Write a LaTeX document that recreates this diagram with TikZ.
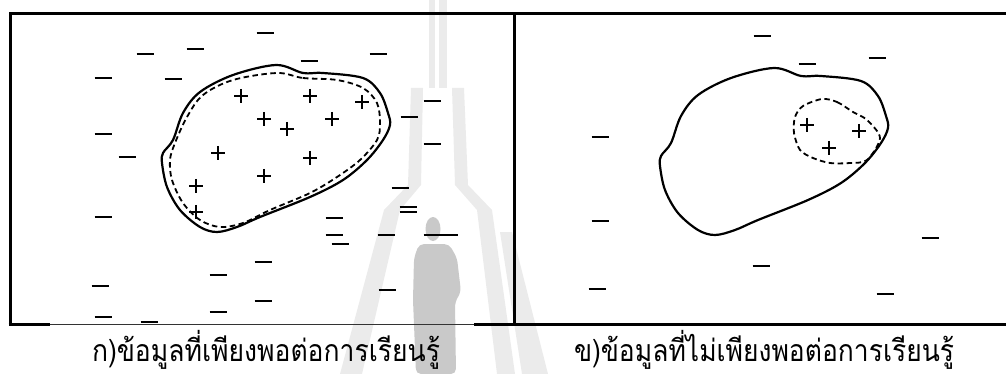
\documentclass[tikz,border=0pt]{standalone}
\usepackage{fontspec}
\usepackage{graphicx}
\newfontfamily\thaifont[Script=Thai]{Loma}
\newlength\capwa \newlength\capwb \newlength\caphk
\begin{document}
\settowidth\capwa{\thaifont ก)ข้อมูลที่เพียงพอต่อการเรียนรู้}%
\settowidth\capwb{\thaifont ข)ข้อมูลที่ไม่เพียงพอต่อการเรียนรู้}%
\settoheight\caphk{\thaifont ก}%
\pgfmathsetmacro\sxa{348/\capwa}%
\pgfmathsetmacro\sxb{380/\capwb}%
\pgfmathsetmacro\sya{17/\caphk}%
\begin{tikzpicture}[x=1pt,y=-1pt,
  frame/.style={line width=3pt},
  thinframe/.style={line width=1pt, black!80},
  blob/.style={line width=2.2pt, line join=round},
  dblob/.style={line width=1.8pt, dash pattern=on 5.5pt off 3.5pt},
  mn/.style={line width=2.9pt},
  pl/.style={line width=2.2pt},
  wm/.style={fill=black!8, draw=none},
  person/.style={fill=black!21, draw=none},
  captext/.style={anchor=base, inner sep=0pt}]
\useasboundingbox (0,0) rectangle (1006,374);
% ---- faint watermark ----
\fill[wm] (429,0) rectangle (435,88);
\fill[wm] (439,0) rectangle (447,88);
\fill[wm] (411,88) -- (423,88) -- (421,185) -- (400,210) -- (362,374) -- (340,374) -- (384,210) -- (408,185) -- cycle;
\fill[wm] (452,88) -- (464,88) -- (468,185) -- (492,210) -- (515,374) -- (497,374) -- (477,210) -- (455,185) -- cycle;
\fill[wm] (500,232) -- (512,232) -- (548,374) -- (522,374) -- cycle;
\fill[person] (433,229) ellipse (7.5 and 12);
\fill[person, rounded corners=5pt] (419,244) -- (449,244) -- (457,258) -- (461,292) -- (455,302) -- (456,374) -- (416,374) -- (413,300) -- (414,258) -- cycle;
% ---- frame ----
\draw[frame] (10,324) -- (10,14) -- (1006,14);
\draw[frame] (514,14) -- (514,325);
\draw[frame] (8.5,324) -- (50,324);
\draw[thinframe] (50,324.5) -- (474,324.5);
\draw[frame] (474,324) -- (1006,324);
% ---- left panel ----
\draw[blob] plot[smooth cycle, tension=0.55] coordinates {
 (276,65) (303,73) (323,73) (363,78) (380,93) (388,113) (390,125) (383,140)
 (367,160) (343,180) (310,197) (260,217) (237,227) (217,232) (200,227)
 (180,210) (167,187) (162,163) (163,153) (173,140) (183,113) (200,92) (233,75)};
\draw[dblob] plot[smooth cycle, tension=0.55] coordinates {
 (277,73) (303,78) (337,80) (363,88) (377,103) (380,123) (377,140) (360,160)
 (337,177) (310,193) (270,210) (243,223) (220,227) (200,220) (183,203)
 (172,180) (170,160) (175,143) (187,117) (203,95) (233,80)};
\foreach \x/\y in {265/33,145/54,195/49,309/61,378/54,103/78,173/79,432/101,
  409/117,432/144,103/134,127/157,400/188,408/207,408/212,103/217,334/218,
  334/235,340/244,386/235,432/235,449/235,263/262,218/275,100/286,263/301,
  218/312,387/290,103/317,149/322}
  \draw[mn] ({\x-8.5},\y) -- ({\x+8.5},\y);
\foreach \x/\y in {241/96,310/96,362/102,264/119,287/129,332/119,218/153,
  310/158,264/176,196/186,196/212}
  \draw[pl] ({\x-7},\y) -- ({\x+7},\y) ({\x},{\y-7}) -- ({\x},{\y+7});
% ---- right panel ----
\begin{scope}[shift={(498,3)}]
\draw[blob] plot[smooth cycle, tension=0.55] coordinates {
 (276,65) (303,73) (323,73) (363,78) (380,93) (388,113) (390,125) (383,140)
 (367,160) (343,180) (310,197) (260,217) (237,227) (217,232) (200,227)
 (180,210) (167,187) (162,163) (163,153) (173,140) (183,113) (200,92) (233,75)};
\end{scope}
\draw[dblob] plot[smooth cycle, tension=0.5] coordinates {
 (822,99) (837,102) (853,112) (867,120) (880,138) (867,160) (850,163)
 (830,163) (813,158) (800,150) (794,133) (795,117) (803,106)};
\foreach \x/\y in {762/36,807/64,877/58,600/137,600/221,930/238,761/266,
  597/289,885/294}
  \draw[mn] ({\x-8.5},\y) -- ({\x+8.5},\y);
\foreach \x/\y in {807/125,859/131,829/148}
  \draw[pl] ({\x-7},\y) -- ({\x+7},\y) ({\x},{\y-7}) -- ({\x},{\y+7});
% ---- captions ----
\node[captext] (capa) at (266,361) {\scalebox{\sxa}[\sya]{\thaifont ก)ข้อมูลที่เพียงพอต่อการเรียนรู้}};
\node[captext] (capb) at (764,361) {\scalebox{\sxb}[\sya]{\thaifont ข)ข้อมูลที่ไม่เพียงพอต่อการเรียนรู้}};
\end{tikzpicture}
\end{document}
